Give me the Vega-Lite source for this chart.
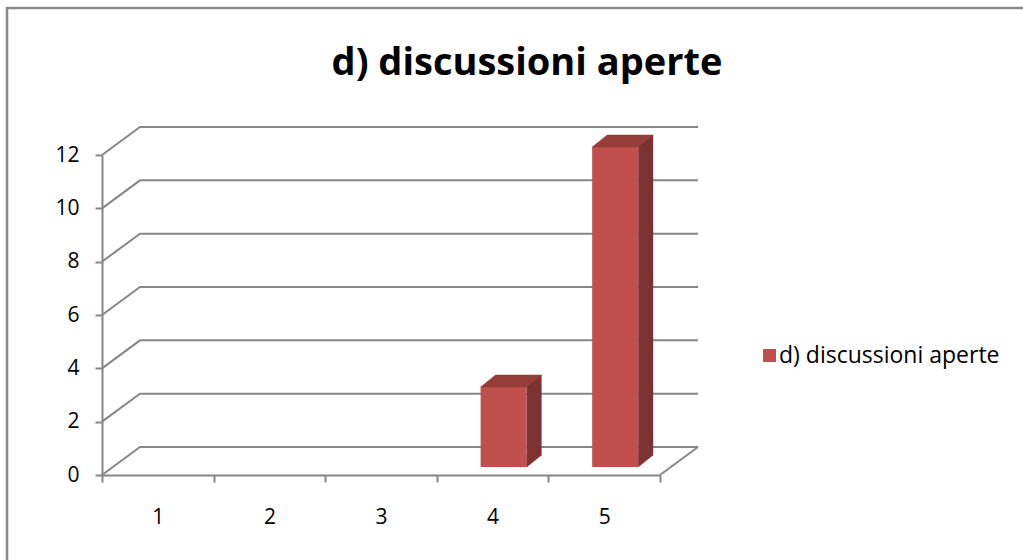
{
  "$schema": "https://vega.github.io/schema/vega-lite/v6.json",
  "autosize": "none",
  "padding": {"left": 7, "top": 8, "right": 0, "bottom": 0},
  "width": 1016,
  "height": 552,
  "background": "white",
  "title": {"text": "d) discussioni aperte", "font": "Open Sans", "fontSize": 38, "fontWeight": "bold", "color": "#000000", "anchor": "middle", "frame": "group", "baseline": "alphabetic", "offset": -105, "dx": 12},
  "config": {
    "view": {"stroke": "#898989", "strokeWidth": 2.5, "strokeDash": [1016, 1568, 552]},
    "axis": {"domainColor": "#868686", "domainWidth": 2, "tickColor": "#868686", "tickWidth": 2, "tickSize": 7, "labelFont": "Open Sans", "labelFontSize": 21, "labelColor": "#000000", "grid": false, "title": null}
  },
  "datasets": {
    "main": [
      {"cat": 1, "value": 0, "series": "d) discussioni aperte"},
      {"cat": 2, "value": 0, "series": "d) discussioni aperte"},
      {"cat": 3, "value": 0, "series": "d) discussioni aperte"},
      {"cat": 4, "value": 3, "series": "d) discussioni aperte"},
      {"cat": 5, "value": 12, "series": "d) discussioni aperte"}
    ],
    "grid": [{"v": 0}, {"v": 2}, {"v": 4}, {"v": 6}, {"v": 8}, {"v": 10}, {"v": 12}]
  },
  "layer": [
    {
      "data": {"name": "grid"},
      "mark": {"type": "point", "shape": "M 0 0 L 38 -28 L 596 -28", "filled": false, "stroke": "#868686", "strokeWidth": 2, "size": 4, "opacity": 1, "xOffset": -55.8},
      "encoding": {
        "x": {"datum": 1, "type": "ordinal", "scale": {"type": "band", "domain": [1, 2, 3, 4, 5], "range": [95, 653], "paddingInner": 0, "paddingOuter": 0}, "axis": {"orient": "bottom", "offset": -85, "tickBand": "extent", "labelAngle": 0, "labelPadding": 24}},
        "y": {"field": "v", "type": "quantitative", "scale": {"domain": [0, 12], "range": [467, 147], "nice": false, "zero": true}, "axis": {"orient": "left", "offset": -95, "values": [0, 2, 4, 6, 8, 10, 12], "labelPadding": 16}}
      }
    },
    {
      "data": {"values": [{"v": 0}]},
      "mark": {"type": "point", "shape": "M 0 0 L 38 -28", "filled": false, "stroke": "#868686", "strokeWidth": 2, "size": 4, "opacity": 1, "xOffset": 55.8},
      "encoding": {
        "x": {"datum": 5, "type": "ordinal"},
        "y": {"field": "v", "type": "quantitative"}
      }
    },
    {
      "data": {"name": "main"},
      "transform": [{"filter": "datum.value > 0"}],
      "layer": [
        {
          "mark": {"type": "bar", "width": 15, "xOffset": 41.5, "yOffset": -20, "y2Offset": -20, "color": "#7C3230"},
          "encoding": {
            "x": {"field": "cat", "type": "ordinal"},
            "y": {"field": "value", "type": "quantitative"}
          }
        },
        {
          "mark": {"type": "point", "shape": "M 0 -12 L 0 0 L 15 -12 Z", "filled": true, "fill": "#7C3230", "stroke": "#7C3230", "strokeWidth": 0.5, "size": 4, "opacity": 1, "xOffset": 34, "yOffset": -8},
          "encoding": {
            "x": {"field": "cat", "type": "ordinal"},
            "y": {"datum": 0, "type": "quantitative"}
          }
        },
        {
          "mark": {"type": "bar", "width": 46, "xOffset": 11, "yOffset": -8, "y2Offset": -8},
          "encoding": {
            "x": {"field": "cat", "type": "ordinal"},
            "y": {"field": "value", "type": "quantitative"},
            "color": {"field": "series", "type": "nominal", "scale": {"range": ["#C0504D"]}, "legend": {"orient": "none", "legendX": 751, "legendY": 336, "title": null, "padding": 0, "symbolType": "square", "symbolSize": 169, "symbolStrokeWidth": 0, "labelFont": "Open Sans", "labelFontSize": 23, "labelColor": "#000000", "labelOffset": -2, "labelLimit": 0}}
          }
        },
        {
          "mark": {"type": "point", "shape": "M -23 0 L 23 0 L 38 -12 L -8 -12 Z", "filled": true, "fill": "#963D3A", "stroke": "#963D3A", "strokeWidth": 0.5, "size": 4, "opacity": 1, "xOffset": 11, "yOffset": -8},
          "encoding": {
            "x": {"field": "cat", "type": "ordinal"},
            "y": {"field": "value", "type": "quantitative"}
          }
        }
      ]
    }
  ]
}
